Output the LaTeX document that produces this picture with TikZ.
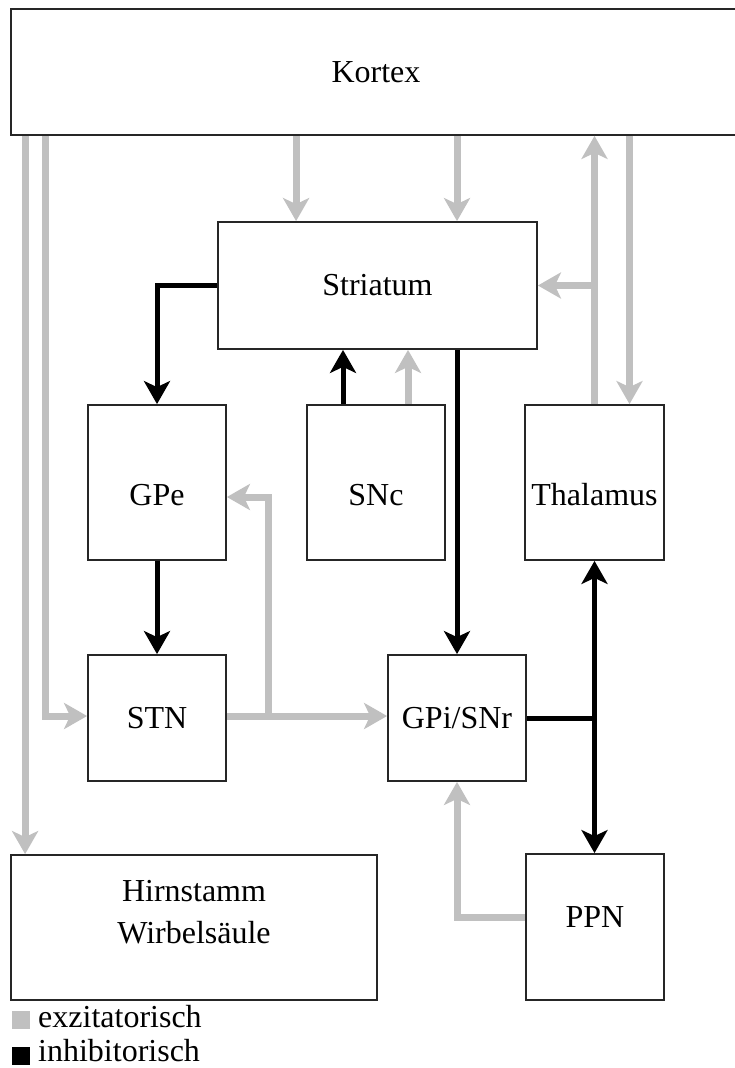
\documentclass[tikz,border=0pt]{standalone}
\usepackage{fontspec}
\setmainfont{Liberation Serif}
\usetikzlibrary{arrows.meta,calc}
\definecolor{excgray}{RGB}{192,192,192}
\tikzset{
  every node/.style={font=\fontsize{32}{42}\selectfont},
  box/.style={draw=black!85, line width=1.8pt, inner sep=0pt},
  low/.style={text height=46pt, text depth=0pt},
  exc/.style={draw=excgray, line width=7pt, -{Stealth[length=23pt,width=26pt,inset=6pt]}},
  inh/.style={draw=black, line width=5pt, -{Stealth[length=23pt,width=26pt,inset=6pt]}},
  inhline/.style={draw=black, line width=5pt},
  inhboth/.style={draw=black, line width=5pt, {Stealth[length=23pt,width=26pt,inset=6pt]}-{Stealth[length=23pt,width=26pt,inset=6pt]}},
}
\begin{document}
\begin{tikzpicture}[x=1pt,y=-1pt]
\useasboundingbox (0,0) rectangle (734,1068);
% boxes
\node[box, minimum width=730pt, minimum height=126pt] (kortex) at (376,72) {Kortex};
\node[box, minimum width=319pt, minimum height=127pt] (striatum) at (377.5,285.5) {Striatum};
\node[box, low, minimum width=138pt, minimum height=155pt] (gpe) at (157,482.5) {GPe};
\node[box, low, minimum width=138pt, minimum height=155pt] (snc) at (376,482.5) {SNc};
\node[box, low, minimum width=139pt, minimum height=155pt] (thal) at (594.5,482.5) {Thalamus};
\node[box, minimum width=138pt, minimum height=126pt] (stn) at (157,718) {STN};
\node[box, minimum width=138pt, minimum height=126pt] (gpi) at (457,718) {GPi/SNr};
\node[box, minimum width=138pt, minimum height=146pt] (ppn) at (595,927) {\raisebox{10pt}[\height][\depth]{PPN}};
\node[box, minimum width=366pt, minimum height=145pt] (hirn) at (194,927.5) {\raisebox{13pt}[\height][\depth]{\begin{tabular}{@{}c@{}}Hirnstamm\\Wirbelsäule\end{tabular}}};
% excitatory connectors
\draw[exc] ([xshift=15pt]kortex.south west) -- ([xshift=15pt]hirn.north west);
\draw[exc] ([xshift=35pt]kortex.south west) |- ([yshift=2pt]stn.west);
\draw[exc] ([xshift=79pt]striatum.north west |- kortex.south) -- ([xshift=79pt]striatum.north west);
\draw[exc] (kortex.south -| gpi.north) -- (striatum.north -| gpi.north);
\draw[exc] (thal.north) -- (kortex.south -| thal.north);
\draw[exc] (striatum.east -| thal.north) -- (striatum.east);
\draw[exc] ([xshift=35pt]thal.north |- kortex.south) -- ([xshift=35pt]thal.north);
\draw[exc] ([xshift=32pt]snc.north) -- ([xshift=32pt]snc.north |- striatum.south);
\draw[exc] ([yshift=2pt]stn.east) -- ([yshift=2pt]gpi.west);
\coordinate (br) at ($([yshift=2pt]stn.east)!0.26!([yshift=2pt]gpi.west)$);
\draw[exc] (br) |- ([yshift=-14.5pt]gpe.east);
\draw[exc] ([yshift=10pt]ppn.west) -| (gpi.south);
% inhibitory connectors
\draw[inh] (striatum.west) -| (gpe.north);
\draw[inh] ([xshift=-33pt]snc.north) -- ([xshift=-33pt]snc.north |- striatum.south);
\draw[inh] (striatum.south -| gpi.north) -- (gpi.north);
\draw[inh] (gpe.south) -- (stn.north);
\draw[inhline] (gpi.east) -- (gpi.east -| thal.south);
\draw[inhboth] (thal.south) -- (ppn.north -| thal.south);
% legend
\node[fill=excgray, minimum size=18pt, inner sep=0pt] (lgexc) at (21,1020) {};
\node[anchor=base west, inner sep=0pt] (lgexct) at (38,1027) {exzitatorisch};
\node[fill=black, minimum size=18pt, inner sep=0pt] (lginh) at (21,1055.5) {};
\node[anchor=base west, inner sep=0pt] (lginht) at (38,1061) {inhibitorisch};
\end{tikzpicture}
\end{document}
